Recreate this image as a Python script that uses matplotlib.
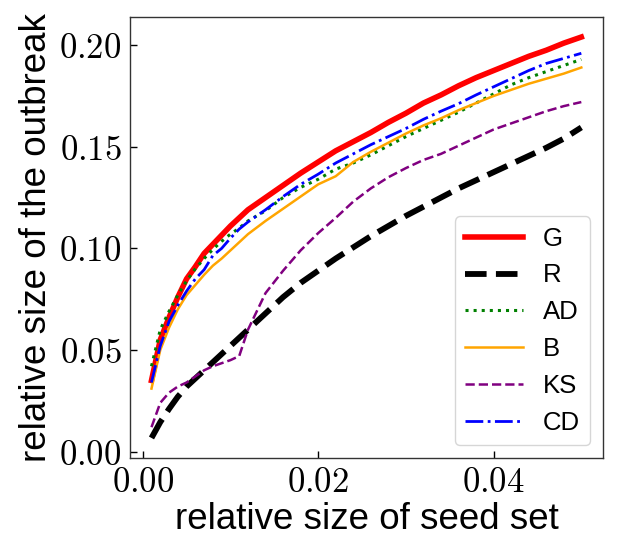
import matplotlib
matplotlib.use("Agg")
import matplotlib.pyplot as plt
from matplotlib.ticker import FuncFormatter

# ---- data ----
seed = [0.001, 0.002, 0.003, 0.004, 0.005, 0.006, 0.007, 0.008, 0.009, 0.010,
        0.011, 0.012, 0.014, 0.016, 0.018, 0.020, 0.022, 0.024, 0.026, 0.028,
        0.030, 0.032, 0.034, 0.036, 0.038, 0.040, 0.042, 0.044, 0.046, 0.048, 0.050]

G = [0.035, 0.055, 0.066, 0.076, 0.085, 0.091, 0.0975, 0.102, 0.1065, 0.111,
     0.115, 0.119, 0.125, 0.131, 0.137, 0.1425, 0.148, 0.1525, 0.157, 0.162,
     0.1665, 0.1715, 0.1755, 0.180, 0.184, 0.1875, 0.191, 0.1945, 0.1975, 0.201, 0.204]

R = [0.0067, 0.0145, 0.021, 0.027, 0.032, 0.036, 0.040, 0.044, 0.048, 0.052,
     0.056, 0.060, 0.068, 0.076, 0.083, 0.089, 0.095, 0.1005, 0.106, 0.111,
     0.116, 0.1205, 0.125, 0.1295, 0.1335, 0.1375, 0.1415, 0.1455, 0.1495, 0.154, 0.1595]

AD = [0.042, 0.060, 0.069, 0.077, 0.084, 0.090, 0.095, 0.0995, 0.1035, 0.107,
      0.110, 0.1135, 0.1185, 0.125, 0.130, 0.134, 0.139, 0.142, 0.146, 0.1505,
      0.155, 0.159, 0.163, 0.167, 0.1715, 0.176, 0.1805, 0.184, 0.187, 0.190, 0.193]

B = [0.031, 0.050, 0.061, 0.070, 0.077, 0.082, 0.087, 0.0915, 0.095, 0.099,
     0.103, 0.107, 0.1135, 0.1195, 0.1255, 0.1315, 0.1355, 0.1425, 0.1475, 0.152,
     0.1565, 0.1605, 0.164, 0.168, 0.1715, 0.175, 0.178, 0.181, 0.1835, 0.186, 0.189]

KS = [0.012, 0.024, 0.029, 0.032, 0.034, 0.037, 0.040, 0.042, 0.0435, 0.045,
      0.047, 0.060, 0.078, 0.089, 0.099, 0.1075, 0.115, 0.123, 0.1295, 0.135,
      0.1395, 0.1435, 0.1465, 0.1505, 0.1545, 0.1585, 0.1615, 0.1645, 0.1675, 0.170, 0.172]

CD = [0.034, 0.052, 0.064, 0.072, 0.079, 0.085, 0.0895, 0.0965, 0.100, 0.105,
      0.1095, 0.113, 0.119, 0.1255, 0.1315, 0.1365, 0.142, 0.1465, 0.151, 0.155,
      0.159, 0.1635, 0.1675, 0.1712, 0.1755, 0.1795, 0.1835, 0.1875, 0.191, 0.1935, 0.196]

series_labels = ["G", "R", "AD", "B", "KS", "CD"]
x_ticks = [0.00, 0.02, 0.04]
y_ticks = [0.00, 0.05, 0.10, 0.15, 0.20]

plt.rcParams['mathtext.fontset'] = 'cm'
plt.rcParams['font.family'] = ['Liberation Sans', 'DejaVu Sans']

fig = plt.figure(figsize=(6.17, 5.41), dpi=100)
ax = fig.add_axes([0.2107, 0.1534, 0.7663, 0.8152])

ax.plot(seed, G, color='red', lw=4.0, ls='-', label=series_labels[0])
ax.plot(seed, R, color='black', lw=4.2, ls='--', label=series_labels[1])
ax.plot(seed, AD, color='green', lw=2.2, ls=':', label=series_labels[2])
ax.plot(seed, B, color='orange', lw=1.8, ls='-', label=series_labels[3])
ax.plot(seed, KS, color='purple', lw=1.8, ls='--', label=series_labels[4])
ax.plot(seed, CD, color='blue', lw=2.0, ls='-.', label=series_labels[5])

ax.set_xticks(x_ticks)
ax.set_yticks(y_ticks)
fmt = FuncFormatter(lambda v, p: r'$%.2f$' % v)
ax.xaxis.set_major_formatter(fmt)
ax.yaxis.set_major_formatter(fmt)
ax.tick_params(direction='in', length=5, width=1, labelsize=25, pad=6,
               top=False, right=False)

ax.set_xlabel("relative size of seed set", fontsize=26.5, labelpad=2)
ax.set_ylabel("relative size of the outbreak", fontsize=26.5, labelpad=4)

for sp in ax.spines.values():
    sp.set_color('#333333')
    sp.set_linewidth(1.0)

leg = ax.legend(loc='lower right', fontsize=18.5, handlelength=2.25,
                handletextpad=0.75, borderaxespad=0.5, labelspacing=0.5)

fig.savefig("out.png", dpi=100)
